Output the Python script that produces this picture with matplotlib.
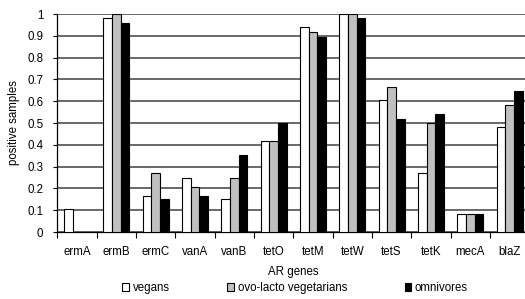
import numpy as np
import matplotlib
matplotlib.use("Agg")
import matplotlib.pyplot as plt
from matplotlib.patches import Patch

plt.rcParams['font.family'] = ['Liberation Sans', 'DejaVu Sans']

genes = ['ermA', 'ermB', 'ermC', 'vanA', 'vanB', 'tetO', 'tetM', 'tetW', 'tetS', 'tetK', 'mecA', 'blaZ']
vegans = [0.105, 0.98, 0.167, 0.25, 0.15, 0.417, 0.94, 1.0, 0.604, 0.27, 0.083, 0.48]
ovo_lacto = [0.0, 1.0, 0.27, 0.208, 0.25, 0.417, 0.917, 1.0, 0.667, 0.5, 0.083, 0.583]
omnivores = [0.0, 0.96, 0.15, 0.167, 0.354, 0.5, 0.896, 0.98, 0.52, 0.54, 0.083, 0.646]

series = [('vegans', vegans, 'white'),
          ('ovo-lacto vegetarians', ovo_lacto, '#c0c0c0'),
          ('omnivores', omnivores, 'black')]

FS = 8.3

fig = plt.figure(figsize=(5.25, 2.99), dpi=100)
ax = fig.add_axes([0.109, 0.224, 0.899, 0.729])

x = np.arange(len(genes))
w = 0.22
for i, (name, vals, col) in enumerate(series):
    vals = np.array(vals)
    mask = vals > 0
    ax.bar(x[mask] + (i - 1) * w, vals[mask], w, color=col, edgecolor='black',
           linewidth=0.8, zorder=3)

ax.set_xlim(-0.5, len(genes) - 0.5)
ax.set_ylim(0, 1)
ax.set_yticks(np.arange(0, 1.01, 0.1))
ax.set_yticklabels(['0'] + ['%.1f' % v for v in np.arange(0.1, 0.95, 0.1)] + ['1'])
ax.yaxis.grid(True, color='#404040', linewidth=1.1, zorder=0)
ax.set_axisbelow(True)

ax.set_xticks(x)
ax.set_xticklabels(genes)
ax.set_xticks(np.arange(-0.5, len(genes), 1), minor=True)
ax.tick_params(axis='x', which='major', length=0, pad=10, labelsize=FS)
ax.tick_params(axis='x', which='minor', length=4, width=0.8, direction='out')
ax.tick_params(axis='y', length=3, width=0.8, pad=7, labelsize=FS)

for s in ['top', 'right']:
    ax.spines[s].set_visible(False)
ax.spines['left'].set_linewidth(0.9)
ax.spines['bottom'].set_linewidth(0.9)

ax.set_ylabel('positive samples', fontsize=FS, labelpad=5)
ax.set_xlabel('AR genes', fontsize=FS, labelpad=6)

handles = [Patch(facecolor=col, edgecolor='black', linewidth=0.8, label=name)
           for name, vals, col in series]
fig.legend(handles=handles, loc='center', bbox_to_anchor=(0.562, 0.037), ncol=3,
           frameon=False, fontsize=FS, handlelength=0.6, handleheight=0.6,
           handletextpad=0.3, columnspacing=5.0)

fig.savefig('out.png', dpi=100)
